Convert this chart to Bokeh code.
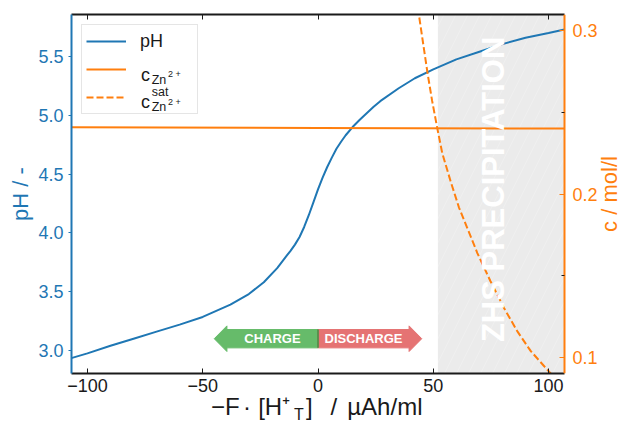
import math
from bokeh.plotting import figure
from bokeh.models import (Range1d, LinearAxis, FixedTicker, NumeralTickFormatter,
                          CustomJSTickFormatter, BoxAnnotation, Label, Legend, LegendItem)
from bokeh.embed import file_html
from bokeh.resources import INLINE

# ---------------- data ----------------
x_ph = [-107, -100, -90, -80, -70, -60, -50, -38, -30, -23.5, -17.7, -13.4, -12, -10, -8,
        -6, -4, -2, 0, 2, 4, 6, 8, 10, 12, 15, 18, 21, 24, 27, 35, 42, 50, 60, 70, 80,
        90, 100, 106.9]
ph = [2.935, 2.975, 3.04, 3.10, 3.16, 3.22, 3.285, 3.39, 3.48, 3.58, 3.70, 3.81, 3.845,
      3.90, 3.965, 4.05, 4.15, 4.26, 4.37, 4.47, 4.56, 4.64, 4.715, 4.775, 4.83, 4.90,
      4.96, 5.015, 5.07, 5.12, 5.23, 5.315, 5.39, 5.475, 5.54, 5.605, 5.66, 5.70, 5.73]

x_c = [-107, 0, 106.9]
c_zn = [0.2409, 0.2405, 0.2401]

x_sat = [43.3, 45.5, 47.5, 49.5, 51.7, 53.9, 57.5, 61.1, 64.7, 69.1, 74.8, 80.6, 86.4,
         92.2, 99.4, 102.0]
c_sat = [0.314, 0.293, 0.274, 0.257, 0.2405, 0.225, 0.2079, 0.192, 0.1794, 0.164,
         0.1468, 0.1306, 0.1163, 0.1042, 0.0928, 0.0888]

x_ticks = [-100, -50, 0, 50, 100]
ph_ticks = [3.0, 3.5, 4.0, 4.5, 5.0, 5.5]
c_ticks = [0.1, 0.2, 0.3]
c_minor_ticks = [0.15, 0.25]

x_lim = (-106.9, 106.9)
ph_lim = (2.804, 5.857)
c_lim = (0.0904, 0.3098)

# x-axis title, split into pieces (text, centre position along x)
xtitle_main = ["\u2212F", "\u00b7", "[H\u207a", "]", "/", "\u00b5Ah/ml"]
xtitle_main_pos = [-40.2, -30.8, -19.0, -3.8, 6.9, 29.0]
xtitle_sub = ["T"]
xtitle_sub_pos = [-8.3]

zhs_start = 52
zhs_label_x = 76
zhs_label_y = 4.37

arrow_center = 3.10
arrow_body_half = 0.078
arrow_head_half = 0.109
arrow_tip = 45
arrow_head_base = 39.5

# ---------------- style ----------------
BLUE = "#1f77b4"
ORANGE = "#ff7f0e"
BLACK = "#1a1a1a"
GREEN = "#66bb6a"
RED = "#e57373"
FONT = "Liberation Sans"

W, H = 622, 427
PLOT_L, PLOT_R, PLOT_T, PLOT_B = 71, 564, 14, 373     # plot-area box on the canvas
ML, MT, MB, MR = PLOT_L, PLOT_T, H - PLOT_B, 0
FH = PLOT_B - PLOT_T
px_per_x = (PLOT_R - PLOT_L) / (x_lim[1] - x_lim[0])
x_view = (x_lim[0], x_lim[1] + (W - PLOT_R) / px_per_x)   # frame extends to canvas right edge

p = figure(width=W, height=H, output_backend="svg", toolbar_location=None,
           x_range=Range1d(*x_view), y_range=Range1d(*ph_lim),
           x_axis_location=None, y_axis_location=None,
           min_border_left=ML, min_border_right=MR, min_border_top=MT, min_border_bottom=MB)
p.extra_y_ranges = {"c": Range1d(*c_lim)}
p.outline_line_color = None
p.grid.visible = False
p.background_fill_color = "white"
p.border_fill_color = "white"

minus_fmt = CustomJSTickFormatter(code="return tick < 0 ? '\u2212' + Math.abs(tick) : String(tick);")
blank_fmt = CustomJSTickFormatter(code="return '';")

bottom = LinearAxis(ticker=FixedTicker(ticks=x_ticks), formatter=minus_fmt, bounds=x_lim,
                    axis_line_width=2, axis_line_color=BLACK,
                    major_tick_in=5, major_tick_out=0, major_tick_line_color=BLACK,
                    minor_tick_line_color=None,
                    major_label_text_font=FONT, major_label_text_font_size="18px",
                    major_label_text_color=BLACK, major_label_standoff=5)
p.add_layout(bottom, "below")


def piece_axis(texts, positions, size, standoff):
    fmt = CustomJSTickFormatter(args=dict(pos=positions, txt=texts),
                                code="const i = pos.indexOf(tick); return i >= 0 ? txt[i] : '';")
    return LinearAxis(ticker=FixedTicker(ticks=positions), formatter=fmt,
                      axis_line_color=None, major_tick_line_color=None,
                      minor_tick_line_color=None, major_tick_in=0, major_tick_out=0,
                      major_label_text_font=FONT, major_label_text_font_size=size,
                      major_label_text_color=BLACK, major_label_standoff=standoff)


p.add_layout(piece_axis(xtitle_main, xtitle_main_pos, "24px", -2), "below")
p.add_layout(piece_axis(xtitle_sub, xtitle_sub_pos, "16px", -17), "below")

top = LinearAxis(ticker=FixedTicker(ticks=x_ticks), formatter=blank_fmt, bounds=x_lim,
                 axis_line_width=2, axis_line_color=BLACK,
                 major_tick_in=5, major_tick_out=0, major_tick_line_color=BLACK,
                 minor_tick_line_color=None, major_label_text_color=None,
                 major_label_text_font_size="0px", major_label_standoff=0)
p.add_layout(top, "above")

left = LinearAxis(ticker=FixedTicker(ticks=ph_ticks), formatter=NumeralTickFormatter(format="0.0"),
                  axis_line_width=2, axis_line_color=BLUE,
                  major_tick_in=0, major_tick_out=3, major_tick_line_color=BLUE,
                  minor_tick_line_color=None,
                  major_label_text_font=FONT, major_label_text_font_size="18px",
                  major_label_text_color=BLUE, major_label_standoff=5,
                  axis_label="pH / -", axis_label_text_font=FONT,
                  axis_label_text_font_size="22px", axis_label_text_font_style="normal",
                  axis_label_text_color=BLUE, axis_label_standoff=2)
p.add_layout(left, "left")

right = LinearAxis(y_range_name="c", fixed_location=x_lim[1],
                   ticker=FixedTicker(ticks=c_ticks, minor_ticks=c_minor_ticks),
                   formatter=NumeralTickFormatter(format="0.0"),
                   axis_line_width=2, axis_line_color=ORANGE,
                   major_tick_in=5, major_tick_out=0, major_tick_line_color=ORANGE,
                   minor_tick_in=3, minor_tick_out=0, minor_tick_line_color=BLACK,
                   major_label_text_font=FONT, major_label_text_font_size="18px",
                   major_label_text_color=ORANGE, major_label_standoff=8)
p.add_layout(right, "right")

# right axis title (inside the extended frame, so it is not clipped)
p.add_layout(Label(x=609 - PLOT_L, y=FH / 2, x_units="screen", y_units="screen",
                   text="c / mol/l", angle=math.pi / 2, text_align="center",
                   text_baseline="middle", text_font=FONT, text_font_size="22px",
                   text_color=ORANGE))

# shaded precipitation region
p.add_layout(BoxAnnotation(left=zhs_start, right=x_lim[1], fill_color="#ebebeb",
                           fill_alpha=1.0, line_color=None, level="underlay",
                           hatch_pattern="/", hatch_color="white", hatch_alpha=0.4,
                           hatch_scale=24, hatch_weight=0.5))

# lines
r_ph = p.line(x_ph, ph, line_color=BLUE, line_width=2)
r_c = p.line(x_c, c_zn, line_color=ORANGE, line_width=2, y_range_name="c")
r_sat = p.line(x_sat, c_sat, line_color=ORANGE, line_width=2, line_dash="7 3",
               y_range_name="c")

# charge / discharge arrows
yc, bh, hh = arrow_center, arrow_body_half, arrow_head_half
gx = [0, -arrow_head_base, -arrow_head_base, -arrow_tip, -arrow_head_base, -arrow_head_base, 0]
rx = [0, arrow_head_base, arrow_head_base, arrow_tip, arrow_head_base, arrow_head_base, 0]
ay = [yc + bh, yc + bh, yc + hh, yc, yc - hh, yc - bh, yc - bh]
p.patch(gx, ay, fill_color=GREEN, line_color=GREEN, line_width=1)
p.patch(rx, ay, fill_color=RED, line_color=RED, line_width=1)
p.segment(x0=[0], y0=[yc - bh], x1=[0], y1=[yc + bh], line_color="#3f8f43", line_width=1.5)
p.add_layout(Label(x=-arrow_head_base / 2, y=yc, text="CHARGE", text_align="center",
                   text_baseline="middle", text_font=FONT, text_font_size="13px",
                   text_font_style="bold", text_color="white"))
p.add_layout(Label(x=arrow_head_base / 2, y=yc, text="DISCHARGE", text_align="center",
                   text_baseline="middle", text_font=FONT, text_font_size="13px",
                   text_font_style="bold", text_color="white"))

# ZHS label
p.add_layout(Label(x=zhs_label_x, y=zhs_label_y, text="ZHS PRECIPITATION", angle=math.pi / 2,
                   text_align="center", text_baseline="middle", text_font=FONT,
                   text_font_size="31px", text_font_style="bold", text_color="white"))

# legend (swatches + frame); composite labels drawn as labels on top
legend = Legend(items=[LegendItem(label="pH", renderers=[r_ph]),
                       LegendItem(label=" ", renderers=[r_c]),
                       LegendItem(label="  ", renderers=[r_sat])],
                location="top_left", margin=10, padding=4, spacing=4,
                glyph_width=40, glyph_height=24, label_height=24, label_width=53,
                label_standoff=14, label_text_font=FONT, label_text_font_size="18px",
                label_text_color=BLACK, border_line_color="#cccccc", border_line_width=1,
                background_fill_color="white", background_fill_alpha=0.0)
p.add_layout(legend)


def leg_label(text, x_page, base_page, size):
    p.add_layout(Label(x=x_page - PLOT_L, y=PLOT_B - base_page, x_units="screen",
                       y_units="screen", text=text, text_align="left",
                       text_baseline="alphabetic", text_font=FONT, text_font_size=size,
                       text_color=BLACK, text_alpha=1.0, level="overlay"))


leg_label("c", 140.5, 74.7, "18px")
leg_label("Zn", 151.2, 79.7, "12.5px")
leg_label("2 +", 167.5, 73.0, "9px")
leg_label("c", 140.5, 101.7, "18px")
leg_label("sat", 151.2, 91.7, "12.5px")
leg_label("Zn", 151.2, 106.0, "12.5px")
leg_label("2 +", 167.5, 101.7, "9px")

with open("out.html", "w", encoding="utf-8") as f:
    f.write(file_html(p, INLINE))
